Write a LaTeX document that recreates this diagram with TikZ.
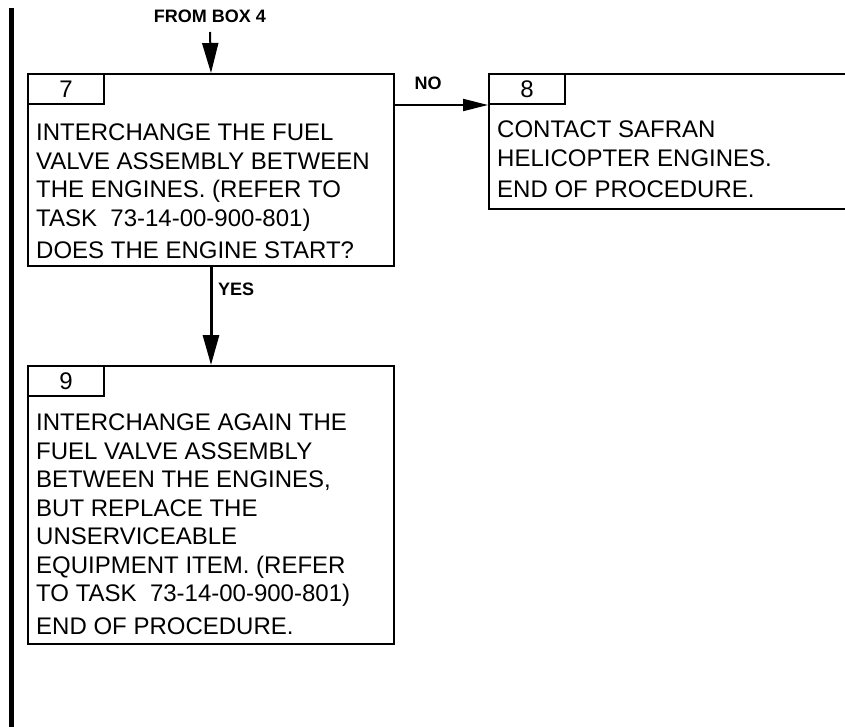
\documentclass[tikz,border=0pt]{standalone}
\usepackage{fontspec}
\setmainfont{Liberation Sans}
\usetikzlibrary{arrows.meta,positioning}

\begin{document}
\begin{tikzpicture}[x=1pt,y=-1pt,
  box/.style={draw,line width=2pt,anchor=north west,inner sep=0pt},
  tab/.style={draw,line width=2pt,anchor=north west,minimum width=76pt,
        minimum height=30pt,inner sep=0pt,font=\fontsize{24}{28.5}\selectfont},
  bodytxt/.style={anchor=north west,align=left,inner sep=0pt,
        font=\fontsize{24}{28.5}\selectfont},
  lbl/.style={inner sep=0pt,font=\fontsize{18}{20}\selectfont\bfseries},
  arr/.style={line width=2pt,-{Triangle[length=30pt,width=16pt]}}]
  \useasboundingbox (0,0) rectangle (845,727);
  % change bar on the left margin
  \draw[line width=5pt] (11,8) -- (11,727);

  % box 7
  \node[box,minimum width=366pt,minimum height=192pt] (b7) at (27,73) {};
  \node[tab] (t7) at (b7.north west) {7};
  \node[bodytxt,xshift=9pt,yshift=-51pt] (x7) at (b7.north west)
    {INTERCHANGE THE FUEL\\
     VALVE ASSEMBLY BETWEEN\\
     THE ENGINES. (REFER TO\\
     TASK\ \ 73-14-00-900-801)\\[4pt]
     DOES THE ENGINE START?};

  % box 8 (runs off the right edge)
  \node[box,minimum width=372pt,minimum height=135pt] (b8) at (488,73) {};
  \node[tab] (t8) at (b8.north west) {8};
  \node[bodytxt,xshift=9pt,yshift=-48pt] (x8) at (b8.north west)
    {CONTACT SAFRAN\\
     HELICOPTER ENGINES.\\[3pt]
     END OF PROCEDURE.};

  % box 9
  \node[box,minimum width=366pt,minimum height=278pt] (b9) at (27,365) {};
  \node[tab] (t9) at (b9.north west) {9};
  \node[bodytxt,xshift=9pt,yshift=-49pt] (x9) at (b9.north west)
    {INTERCHANGE AGAIN THE\\
     FUEL VALVE ASSEMBLY\\
     BETWEEN THE ENGINES,\\
     BUT REPLACE THE\\
     UNSERVICEABLE\\
     EQUIPMENT ITEM. (REFER\\
     TO TASK\ \ 73-14-00-900-801)\\[4pt]
     END OF PROCEDURE.};

  % connectors
  \node[lbl] (from4) at (210,16) {FROM BOX 4};
  \coordinate (in7) at (210,32);
  \draw[arr] (in7) -- (b7.north);

  \draw[line width=2pt,-{Triangle[length=25pt,width=12pt]}]
    (b7.east |- t8.south west) -- (t8.south west);
  \node[lbl] (no) at (428,83) {NO};

  \draw[line width=3pt,-{Triangle[length=30pt,width=16pt]}] (b7.south) -- (b9.north);
  \node[lbl,anchor=west] (yes) at (218,289) {YES};
\end{tikzpicture}
\end{document}
